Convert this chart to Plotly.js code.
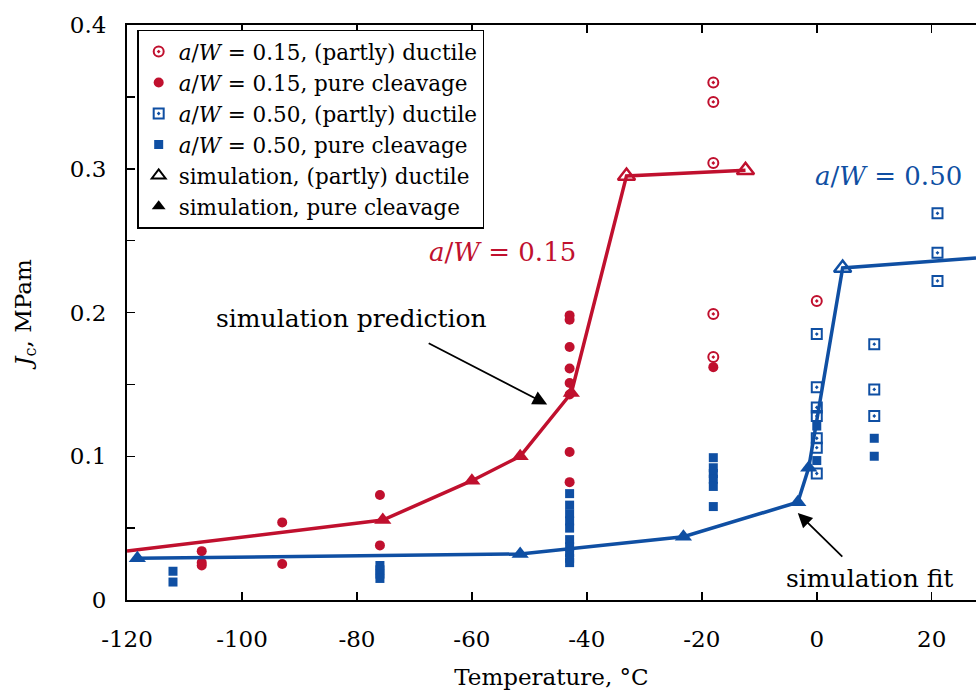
<!DOCTYPE html>
<html>
<head>
<meta charset="utf-8">
<script src="https://cdn.plot.ly/plotly-3.0.1.min.js"></script>
<style>html,body{margin:0;padding:0;background:#fff;}#chart{width:976px;height:695px;}</style>
</head>
<body>
<div id="chart"></div>
<script>
// ---- data ----
const redDuctT = [-18, -18, -18, -18, -18, 0];
const redDuctJ = [0.360, 0.3465, 0.304, 0.199, 0.169, 0.208];

const redCleavT = [-107, -107, -107, -93, -93, -76, -76, -43, -43, -43, -43, -43, -43, -43, -43, -18];
const redCleavJ = [0.034, 0.026, 0.024, 0.054, 0.025, 0.073, 0.038, 0.198, 0.195, 0.176, 0.161, 0.151, 0.143, 0.103, 0.082, 0.162];

const blueDuctT = [0, 0, 0, 0, 0, 0, 0, 10, 10, 10, 21, 21, 21];
const blueDuctJ = [0.185, 0.148, 0.134, 0.128, 0.1125, 0.106, 0.088, 0.178, 0.1465, 0.128, 0.269, 0.2415, 0.222];

const blueCleavT = [-112, -112, -76, -76, -76, -76,
  -43, -43, -43, -43, -43, -43, -43, -43, -43, -43,
  -18, -18, -18, -18, -18, -18, 0, 0, 10, 10];
const blueCleavJ = [0.020, 0.0125, 0.024, 0.021, 0.018, 0.015,
  0.074, 0.066, 0.060, 0.055, 0.050, 0.042, 0.037, 0.033, 0.029, 0.026,
  0.099, 0.092, 0.088, 0.084, 0.079, 0.065, 0.121, 0.097, 0.1125, 0.100];

// simulation curves; kind: 'c' = pure cleavage, 'd' = (partly) ductile, '' = line only
const simRedT = [-120, -75.5, -60, -51.6, -42.7, -33.1, -12.4];
const simRedJ = [0.034, 0.0556, 0.083, 0.100, 0.144, 0.295, 0.299];
const simRedKind = ['', 'c', 'c', 'c', 'c', 'd', 'd'];

const simBlueT = [-118.2, -51.6, -23.2, -3.3, -1.4, 4.5, 27.7];
const simBlueJ = [0.029, 0.032, 0.044, 0.068, 0.092, 0.231, 0.238];
const simBlueKind = ['c', 'c', 'c', 'c', 'c', 'd', ''];

const xTicks = [-120, -100, -80, -60, -40, -20, 0, 20];
const yTicks = [0, 0.1, 0.2, 0.3, 0.4];
const yTickText = ['0', '0.1', '0.2', '0.3', '0.4'];
const yMinorTicks = [0.05, 0.15, 0.25, 0.35];

// ---- styling ----
const RED = '#c0102e';
const BLUE = '#0f4fa3';
const FONT = 'DejaVu Serif, Liberation Serif, serif';

function pick(arr, kinds, k) { return arr.filter((_, i) => kinds[i] === k); }

const traces = [
  { x: redDuctT, y: redDuctJ, mode: 'markers', type: 'scatter',
    name: '<i>a</i>/<i>W</i> = 0.15, (partly) ductile',
    marker: { symbol: 'circle-open-dot', size: 10, color: RED, line: { width: 2, color: RED } } },
  { x: redCleavT, y: redCleavJ, mode: 'markers', type: 'scatter',
    name: '<i>a</i>/<i>W</i> = 0.15, pure cleavage',
    marker: { symbol: 'circle', size: 10, color: RED } },
  { x: blueDuctT, y: blueDuctJ, mode: 'markers', type: 'scatter',
    name: '<i>a</i>/<i>W</i> = 0.50, (partly) ductile',
    marker: { symbol: 'square-open-dot', size: 10, color: BLUE, line: { width: 2, color: BLUE } } },
  { x: blueCleavT, y: blueCleavJ, mode: 'markers', type: 'scatter',
    name: '<i>a</i>/<i>W</i> = 0.50, pure cleavage',
    marker: { symbol: 'square', size: 9, color: BLUE } },
  // legend-only entries for simulation
  { x: [null], y: [null], mode: 'markers', type: 'scatter',
    name: 'simulation, (partly) ductile',
    marker: { symbol: 'triangle-up-open', size: 12, color: '#000', line: { width: 2, color: '#000' } } },
  { x: [null], y: [null], mode: 'markers', type: 'scatter',
    name: 'simulation, pure cleavage',
    marker: { symbol: 'triangle-up', size: 12, color: '#000' } },
  // simulation lines
  { x: simRedT, y: simRedJ, mode: 'lines', type: 'scatter', showlegend: false,
    line: { color: RED, width: 3.5 } },
  { x: simBlueT, y: simBlueJ, mode: 'lines', type: 'scatter', showlegend: false,
    line: { color: BLUE, width: 3.5 } },
  { x: pick(simRedT, simRedKind, 'c'), y: pick(simRedJ, simRedKind, 'c'), mode: 'markers', type: 'scatter', showlegend: false,
    marker: { symbol: 'triangle-up', size: 15, color: RED } },
  { x: pick(simRedT, simRedKind, 'd'), y: pick(simRedJ, simRedKind, 'd'), mode: 'markers', type: 'scatter', showlegend: false,
    marker: { symbol: 'triangle-up-open', size: 15, color: RED, line: { width: 2.5, color: RED } } },
  { x: pick(simBlueT, simBlueKind, 'c'), y: pick(simBlueJ, simBlueKind, 'c'), mode: 'markers', type: 'scatter', showlegend: false,
    marker: { symbol: 'triangle-up', size: 15, color: BLUE } },
  { x: pick(simBlueT, simBlueKind, 'd'), y: pick(simBlueJ, simBlueKind, 'd'), mode: 'markers', type: 'scatter', showlegend: false,
    marker: { symbol: 'triangle-up-open', size: 15, color: BLUE, line: { width: 2.5, color: BLUE } } }
];

const layout = {
  width: 976, height: 695,
  margin: { l: 127, r: 0, t: 25, b: 95 },
  paper_bgcolor: '#fff', plot_bgcolor: '#fff',
  font: { family: FONT, size: 23, color: '#000' },
  showlegend: true,
  legend: {
    x: 0.012, y: 0.992, xanchor: 'left', yanchor: 'top',
    bgcolor: '#fff', bordercolor: '#000', borderwidth: 1.5,
    font: { family: FONT, size: 21.5, color: '#000' },
    tracegroupgap: 0, itemclick: false
  },
  xaxis: {
    range: [-120, 27.7], tickvals: xTicks, ticktext: xTicks.map(String),
    showgrid: false, zeroline: false, showline: true, linecolor: '#000', linewidth: 2,
    mirror: 'ticks', ticks: 'inside', ticklen: 8, tickwidth: 1.5, tickcolor: '#000',
    ticklabelstandoff: 17,
    tickfont: { family: FONT, size: 23 },
    title: { text: 'Temperature, °C', font: { family: FONT, size: 23 }, standoff: 18 }
  },
  yaxis: {
    range: [0, 0.4], tickvals: yTicks, ticktext: yTickText,
    showgrid: false, zeroline: false, showline: true, linecolor: '#000', linewidth: 2,
    ticks: 'inside', ticklen: 8, tickwidth: 1.5, tickcolor: '#000',
    minor: { tickvals: yMinorTicks, ticks: 'inside', ticklen: 8, tickwidth: 1.5, tickcolor: '#000', showgrid: false },
    ticklabelstandoff: 14,
    tickfont: { family: FONT, size: 23 },
    title: { text: '<i>J</i><sub>c</sub>, MPam', font: { family: FONT, size: 23 }, standoff: 32 }
  },
  annotations: [
    { x: -54.7, y: 0.242, xref: 'x', yref: 'y', text: '<i>a</i>/<i>W</i> = 0.15', showarrow: false,
      font: { family: FONT, size: 26, color: RED }, xanchor: 'center', yanchor: 'middle' },
    { x: -0.7, y: 0.295, xref: 'x', yref: 'y', text: '<i>a</i>/<i>W</i> = 0.50', showarrow: false,
      font: { family: FONT, size: 26, color: BLUE }, xanchor: 'left', yanchor: 'middle' },
    { x: -80.9, y: 0.196, xref: 'x', yref: 'y', text: 'simulation prediction', showarrow: false,
      font: { family: FONT, size: 25, color: '#000' }, xanchor: 'center', yanchor: 'middle' },
    { x: -46.9, y: 0.136, xref: 'x', yref: 'y', text: '', showarrow: true,
      ax: -120, ay: -62, axref: 'pixel', ayref: 'pixel',
      arrowhead: 2, arrowsize: 1.6, arrowwidth: 1.8, arrowcolor: '#000' },
    { x: 9.1, y: 0.0153, xref: 'x', yref: 'y', text: 'simulation fit', showarrow: false,
      font: { family: FONT, size: 25, color: '#000' }, xanchor: 'center', yanchor: 'middle' },
    { x: -3.3, y: 0.0605, xref: 'x', yref: 'y', text: '', showarrow: true,
      ax: 46, ay: 45, axref: 'pixel', ayref: 'pixel',
      arrowhead: 2, arrowsize: 1.6, arrowwidth: 1.8, arrowcolor: '#000' }
  ]
};

Plotly.newPlot('chart', traces, layout, { displayModeBar: false, staticPlot: true });
</script>
</body>
</html>
